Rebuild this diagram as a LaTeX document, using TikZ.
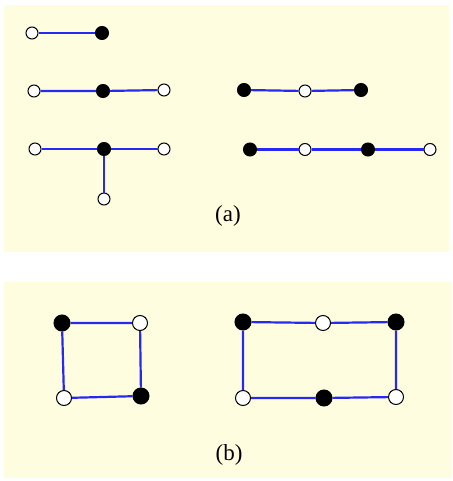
\documentclass[tikz,border=0pt]{standalone}
\usepackage{fontspec}
\setmainfont{Liberation Serif}
\definecolor{panelbg}{RGB}{255,253,224}
\definecolor{edgeblue}{RGB}{40,40,245}
\definecolor{edgeshadow}{RGB}{190,190,170}
\begin{document}
\begin{tikzpicture}[x=1pt,y=-1pt,
  wv/.style={circle,draw=black,line width=1pt,fill=white,inner sep=0pt,minimum size=12pt},
  bv/.style={circle,draw=black,line width=1pt,fill=black,inner sep=0pt,minimum size=13pt},
  wvb/.style={wv,minimum size=15pt},
  bvb/.style={bv,minimum size=16pt},
  edge/.style={draw=edgeblue,line width=2.2pt},
  lab/.style={font=\fontsize{23}{26}\selectfont}]
\useasboundingbox (0,0) rectangle (452,481);
\fill[panelbg] (4,5) rectangle (449,252);
\fill[panelbg] (4,282) rectangle (452,478);
% panel (a)
\node[wv] (a1) at (32,33) {};
\node[bv] (a2) at (102,33) {};
\node[wv] (b1) at (34,91) {};
\node[bv] (b2) at (103,91) {};
\node[wv] (b3) at (164,90) {};
\node[bv] (c1) at (244,90) {};
\node[wv] (c2) at (305,91) {};
\node[bv] (c3) at (361,90) {};
\node[wv] (d1) at (35,149) {};
\node[bv] (d2) at (104,149) {};
\node[wv] (d3) at (164,149) {};
\node[wv] (d4) at (104,199) {};
\node[bv] (e1) at (250,149.5) {};
\node[wv] (e2) at (305,149.5) {};
\node[bv] (e3) at (368,149.5) {};
\node[wv] (e4) at (430,149.5) {};
\node[lab] (la) at (228,216) {(a)};
\path[edge] (a1) -- (a2);
\path[edge] (b1) -- (b2) -- (b3);
\path[edge] (c1) -- (c2) -- (c3);
\path[edge] (d1) -- (d2) -- (d3);
\path[edge] (d2) -- (d4);
\path[edge] (e1) -- (e2) -- (e3) -- (e4);
% panel (b)
\node[bvb] (s1) at (62,323) {};
\node[wvb] (s2) at (140,323) {};
\node[bvb] (s3) at (141,396) {};
\node[wvb] (s4) at (64,398) {};
\path[edge] (s1) -- (s2) -- (s3) -- (s4) -- (s1);
\node[bvb] (r1) at (243,322) {};
\node[wvb] (r2) at (323,323) {};
\node[bvb] (r3) at (396,322) {};
\node[wvb] (r4) at (396,397) {};
\node[bvb] (r5) at (324,398) {};
\node[wvb] (r6) at (243,398) {};
\path[edge] (r1) -- (r2) -- (r3) -- (r4) -- (r5) -- (r6) -- (r1);
\node[lab] (lb) at (229,455) {(b)};
\end{tikzpicture}
\end{document}
